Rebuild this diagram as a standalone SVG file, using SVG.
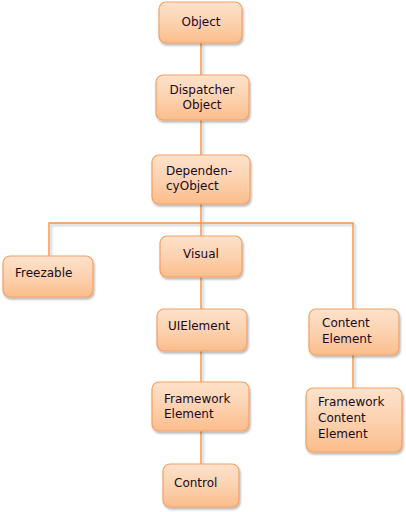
<svg xmlns="http://www.w3.org/2000/svg" width="406" height="512" viewBox="0 0 406 512">
<defs>
<linearGradient id="g" x1="0" y1="0" x2="0" y2="1">
<stop offset="0" stop-color="#fde2cc"/>
<stop offset="0.5" stop-color="#fcd2b0"/>
<stop offset="1" stop-color="#fbbd8c"/>
</linearGradient>
<filter id="sh" x="-10%" y="-10%" width="130%" height="130%">
<feGaussianBlur in="SourceAlpha" stdDeviation="1.2"/>
<feOffset dx="1" dy="1.5"/>
<feComponentTransfer><feFuncA type="linear" slope="0.3"/></feComponentTransfer>
<feMerge><feMergeNode/><feMergeNode in="SourceGraphic"/></feMerge>
</filter>
<filter id="lsh" x="-5%" y="-5%" width="110%" height="110%">
<feGaussianBlur in="SourceAlpha" stdDeviation="0.8"/>
<feOffset dx="1.5" dy="1.5"/>
<feComponentTransfer><feFuncA type="linear" slope="0.25"/></feComponentTransfer>
<feMerge><feMergeNode/><feMergeNode in="SourceGraphic"/></feMerge>
</filter>
</defs>
<style>
.b{fill:url(#g);stroke:#f5a064;stroke-width:1.2;filter:url(#sh)}
.t{font-family:"DejaVu Sans",Verdana,sans-serif;font-size:12px;fill:#1a0a1a}
.c{text-anchor:middle}
.l{stroke:#f59147;stroke-width:1.4;fill:none}
</style>
<rect width="406" height="512" fill="#ffffff"/>
<g id="connectors" filter="url(#lsh)">
<line class="l" x1="201" y1="43" x2="201" y2="75"/>
<line class="l" x1="201" y1="120" x2="201" y2="155"/>
<line class="l" x1="201" y1="204" x2="201" y2="236"/>
<polyline class="l" points="49,256 49,223 353,223 353,309"/>
<line class="l" x1="201" y1="277" x2="201" y2="309"/>
<line class="l" x1="201" y1="351" x2="201" y2="382"/>
<line class="l" x1="201" y1="431" x2="201" y2="464"/>
<line class="l" x1="353" y1="355" x2="353" y2="388"/>
</g>
<g id="object"><rect class="b" x="159" y="2" width="83" height="41" rx="7"/><text class="t c" x="201" y="26">Object</text></g>
<g id="dispatcherobject"><rect class="b" x="156" y="75" width="93" height="45" rx="7"/><text class="t c" x="202" y="94">Dispatcher</text><text class="t c" x="202" y="109">Object</text></g>
<g id="dependencyobject"><rect class="b" x="152" y="155" width="98" height="49" rx="7"/><text class="t" x="166" y="175">Dependen-</text><text class="t" x="166" y="190">cyObject</text></g>
<g id="freezable"><rect class="b" x="3" y="256" width="90" height="41" rx="7"/><text class="t" x="15" y="277">Freezable</text></g>
<g id="visual"><rect class="b" x="160" y="236" width="82" height="41" rx="7"/><text class="t c" x="201" y="258">Visual</text></g>
<g id="uielement"><rect class="b" x="157" y="309" width="90" height="42" rx="7"/><text class="t" x="168" y="330">UIElement</text></g>
<g id="frameworkelement"><rect class="b" x="152" y="382" width="97" height="49" rx="7"/><text class="t" x="164" y="403">Framework</text><text class="t" x="164" y="418">Element</text></g>
<g id="control"><rect class="b" x="163" y="464" width="76" height="43" rx="7"/><text class="t" x="174" y="487">Control</text></g>
<g id="contentelement"><rect class="b" x="309" y="309" width="90" height="46" rx="7"/><text class="t" x="322" y="327">Content</text><text class="t" x="322" y="343">Element</text></g>
<g id="frameworkcontentelement"><rect class="b" x="306" y="388" width="96" height="64" rx="7"/><text class="t" x="318" y="406">Framework</text><text class="t" x="318" y="422">Content</text><text class="t" x="318" y="438">Element</text></g>
</svg>
